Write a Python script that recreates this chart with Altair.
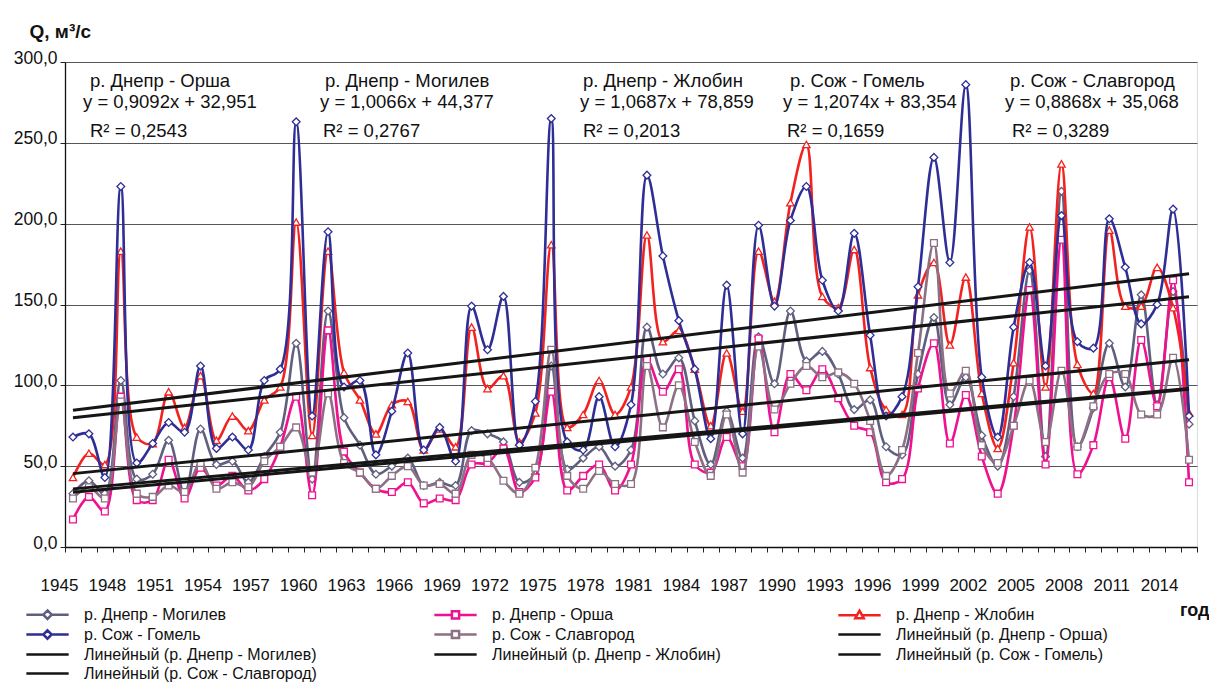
import altair as alt
import pandas as pd

# ---------------- data ----------------
years = list(range(1945, 2016))

mogilev = [33, 41, 33, 103, 42, 45, 66, 33, 73, 51, 53, 40, 56, 71, 126, 42, 146, 80, 63, 45,
           50, 55, 38, 40, 38, 72, 70, 65, 40, 45, 112, 48, 55, 62, 50, 60, 136, 107, 117, 78,
           51, 84, 55, 130, 101, 146, 115, 121, 107, 85, 91, 62, 57, 107, 142, 88, 105, 69, 50, 93,
           171, 56, 220, 62, 86, 126, 99, 156, 88, 158, 76]
orsha = [17, 31, 22, 93, 29, 29, 54, 30, 49, 38, 44, 35, 42, 62, 93, 32, 134, 59, 46, 36,
         34, 40, 27, 30, 29, 51, 52, 61, 34, 43, 96, 35, 44, 51, 35, 51, 116, 96, 110, 51,
         46, 68, 50, 129, 71, 107, 97, 110, 92, 75, 71, 40, 42, 98, 126, 64, 94, 56, 33, 75,
         159, 51, 190, 45, 63, 105, 67, 128, 87, 165, 40]
zhlobin = [43, 58, 51, 183, 68, 64, 96, 74, 106, 66, 81, 72, 91, 99, 201, 69, 183, 108, 91, 70,
           88, 90, 60, 73, 62, 136, 98, 106, 65, 83, 187, 74, 82, 103, 82, 99, 193, 127, 134, 110,
           75, 120, 84, 183, 152, 213, 249, 155, 148, 184, 111, 85, 82, 156, 176, 125, 167, 95, 61, 114,
           198, 99, 237, 113, 95, 196, 149, 149, 173, 148, 83]
gomel = [68, 70, 43, 223, 52, 64, 77, 71, 112, 61, 68, 60, 103, 110, 263, 81, 195, 99, 103, 57,
         84, 120, 60, 74, 53, 149, 122, 155, 63, 90, 265, 65, 60, 93, 62, 88, 230, 180, 140, 110,
         67, 162, 70, 199, 149, 202, 223, 165, 146, 194, 131, 81, 93, 161, 241, 176, 286, 105, 68, 136,
         176, 112, 205, 127, 123, 203, 173, 138, 150, 209, 81]
slavgorod = [30, 37, 30, 90, 33, 31, 38, 34, 52, 36, 40, 37, 53, 62, 74, 46, 95, 52, 46, 36,
             44, 50, 38, 39, 33, 57, 55, 41, 33, 49, 122, 44, 36, 47, 39, 39, 112, 74, 100, 65,
             44, 82, 46, 124, 85, 101, 112, 105, 108, 101, 78, 44, 60, 120, 188, 95, 109, 63, 52, 75,
             103, 65, 109, 62, 87, 107, 107, 82, 82, 117, 54]

series_names = ["р. Днепр - Могилев", "р. Днепр - Орша", "р. Днепр - Жлобин",
                "р. Сож - Гомель", "р. Сож - Славгород"]
series_values = [mogilev, orsha, zhlobin, gomel, slavgorod]

# trend lines (printed equations, x = index of the year starting at 1)
trend_rivers = ["р. Днепр - Орша", "р. Днепр - Могилев", "р. Днепр - Жлобин",
                "р. Сож - Гомель", "р. Сож - Славгород"]
trend_slopes = [0.9092, 1.0066, 1.0687, 1.2074, 0.8868]
trend_intercepts = [32.951, 44.377, 78.859, 83.354, 35.068]
trend_r2 = [0.2543, 0.2767, 0.2013, 0.1659, 0.3289]

y_ticks = [0, 50, 100, 150, 200, 250, 300]

# ---------------- styles ----------------
FONT = "Liberation Sans Narrow, Arial Narrow, Liberation Sans, sans-serif"
series_colors = ["#5f5f80", "#ee1190", "#f2231f", "#2e2e96", "#8c7084"]
series_shapes = ["diamond", "square", "triangle-up", "diamond", "square"]
series_sizes = [60, 46, 55, 60, 46]
TREND_COLOR = "#151515"

W, H = 1132, 485

x_scale = alt.Scale(domain=[1944.5, 2015.5], nice=False, zero=False)
y_scale = alt.Scale(domain=[0, 300], nice=False, zero=False)

tick_bounds = [1944.5 + k for k in range(72)]
x_axis = alt.Axis(
    values=tick_bounds,
    labelExpr="((datum.value + 0.5 - 1945) % 3 == 0) ? toString(datum.value + 0.5) : ''",
    labelOverlap=False, labelFont=FONT, labelFontSize=17, labelColor="#111",
    labelPadding=25, labelOffset=-6, labelFlush=False,
    tickSize=5, tickColor="#222", domainColor="#111", domainWidth=1.3, grid=False,
    title="год", titleFont=FONT, titleFontSize=18, titleFontWeight="bold", titleColor="#111",
    titleAlign="right", titleBaseline="middle", titleX=1144, titleY=63,
)
y_axis = alt.Axis(
    values=y_ticks,
    labelExpr="replace(format(datum.value, '.1f'), '.', ',')",
    labelFont=FONT, labelFontSize=17.5, labelColor="#111", labelPadding=3, labelOffset=-4,
    tickSize=5, tickColor="#222", domainColor="#111", domainWidth=1.3,
    grid=True, gridColor="#555", gridWidth=1,
    title="Q, м³/с", titleFont=FONT, titleFontSize=19, titleFontWeight="bold", titleColor="#111",
    titleAngle=0, titleAlign="left", titleBaseline="middle", titleX=-36, titleY=-31,
)

X = alt.X("year:Q", scale=x_scale, axis=x_axis)
Y = alt.Y("q:Q", scale=y_scale, axis=y_axis)

layers = []
for name, vals, col, shp, sz in zip(series_names, series_values, series_colors, series_shapes, series_sizes):
    df = pd.DataFrame({"year": years, "q": vals, "series": name})
    base = alt.Chart(df)
    layers.append(base.mark_line(interpolate="catmull-rom", strokeWidth=2.6, color=col).encode(x=X, y=Y))
    layers.append(base.mark_point(shape=shp, size=sz, filled=False, fill="white", stroke=col,
                                  strokeWidth=1.3, opacity=1).encode(x=X, y=Y))

# trend lines computed by Vega from the printed coefficients
trend_rows = []
for r, a, b in zip(trend_rivers, trend_slopes, trend_intercepts):
    for yr in (years[0], years[-1]):
        trend_rows.append({"trend": r, "year": yr, "a": a, "b": b})
trend_df = pd.DataFrame(trend_rows)
layers.append(
    alt.Chart(trend_df)
    .transform_calculate(q=f"datum.a * (datum.year - {years[0] - 1}) + datum.b")
    .mark_line(color=TREND_COLOR, strokeWidth=3)
    .encode(x=X, y=Y, detail="trend:N")
)

# legend (built from a clipped, off-scale layer so the native legend shows every entry)
legend_domain = series_names + ["Линейный (" + r + ")" for r in trend_rivers]
legend_colors = series_colors + [TREND_COLOR] * 5
L = 2.35
def with_marker(marker):
    return f"M{-L},0H-0.47M0.47,0H{L}" + marker
diamond_p = with_marker("M0,-0.47L0.47,0L0,0.47L-0.47,0Z")
square_p = with_marker("M-0.4,-0.4H0.4V0.4H-0.4Z")
triangle_p = f"M{-L},0H-0.32M0.32,0H{L}M0,-0.5L0.47,0.34H-0.47Z"
line_p = f"M{-L},0H{L}"
shape_map = {"diamond": diamond_p, "square": square_p, "triangle-up": triangle_p}
legend_shapes = [shape_map[s] for s in series_shapes] + [line_p] * 5

legend_cfg = alt.Legend(
    title=None, orient="none", legendX=-28, legendY=542, columns=3, direction="horizontal",
    columnPadding=112, rowPadding=0, symbolSize=324, symbolStrokeWidth=2.5,
    labelFont=FONT, labelFontSize=16, labelColor="#111", labelOffset=26, labelLimit=600,
    symbolFillColor="white",
)
legend_df = pd.DataFrame({"series": legend_domain, "year": [1900] * len(legend_domain),
                          "q": [0] * len(legend_domain)})
layers.append(
    alt.Chart(legend_df).mark_point(clip=True, size=324, strokeWidth=2.5, opacity=1, filled=False)
    .encode(
        x=X, y=Y,
        color=alt.Color("series:N", scale=alt.Scale(domain=legend_domain, range=legend_colors),
                        sort=legend_domain, legend=legend_cfg),
        shape=alt.Shape("series:N", scale=alt.Scale(domain=legend_domain, range=legend_shapes),
                        sort=legend_domain, legend=legend_cfg),
    )
)

# equation annotations
ann_titles = ["р. Днепр - Орша", "р. Днепр - Могилев", "р. Днепр - Жлобин", "р. Сож - Гомель", "р. Сож - Славгород"]
ann_eqs = [f"y = {a:.4f}x + {b:.3f}".replace(".", ",") for a, b in zip(trend_slopes, trend_intercepts)]
ann_r2 = [f"R² = {r:.4f}".replace(".", ",") for r in trend_r2]
col_x1 = [25, 260, 518, 725, 945]
col_x2 = [18, 255, 515, 718, 940]
col_x3 = [25, 258, 518, 722, 947]
row_y = [25, 46, 75]
for t, e, r2s, a1, a2, a3 in zip(ann_titles, ann_eqs, ann_r2, col_x1, col_x2, col_x3):
    for txt, px, py in ((t, a1, row_y[0]), (e, a2, row_y[1]), (r2s, a3, row_y[2])):
        layers.append(
            alt.Chart(pd.DataFrame({"t": [txt]}))
            .mark_text(align="left", baseline="alphabetic", font=FONT, fontSize=18.5, color="#111")
            .encode(x=alt.value(px), y=alt.value(py), text="t:N")
        )

chart = (
    alt.layer(*layers)
    .properties(width=W, height=H, padding={"left": 57, "top": 54, "right": 12, "bottom": 138},
                autosize=alt.AutoSizeParams(type="none"))
    .configure_view(stroke="#444", strokeWidth=1)
    .configure(background="white")
)

chart.save("out.html", embed_options={"renderer": "svg", "actions": False})
